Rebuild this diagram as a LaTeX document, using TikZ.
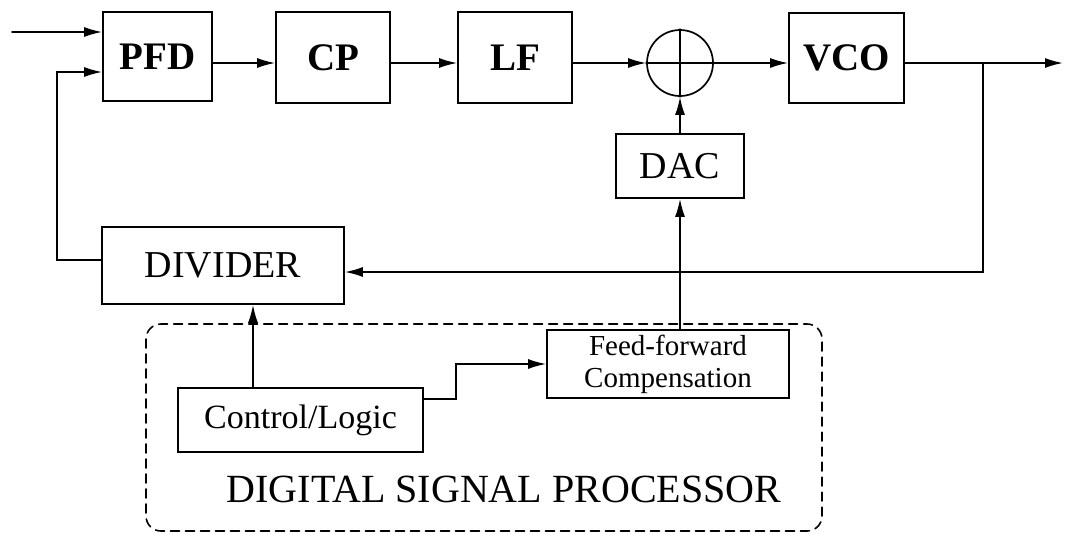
\documentclass[tikz,border=0pt]{standalone}
\usepackage{fontspec}
\setmainfont{Liberation Serif}
\usetikzlibrary{arrows.meta}

\begin{document}
\begin{tikzpicture}[x=1pt, y=-1pt, >={Latex[length=18pt,width=10pt]}, line width=1.7pt, line cap=round,
  blk/.style={draw, rectangle, inner sep=0pt},
  bigb/.style={font=\fontsize{39}{42}\selectfont\bfseries},
  bigr/.style={font=\fontsize{38}{40}\selectfont}]
\useasboundingbox (0,0) rectangle (1065,533);
% PLL forward path
\node[blk, bigb, minimum width=109pt, minimum height=89pt] (PFD) at (157.5,56.5) {PFD};
\node[blk, bigb, minimum width=114pt, minimum height=91pt] (CP) at (333,57.5) {CP};
\node[blk, bigb, minimum width=114pt, minimum height=91pt] (LF) at (515,57.5) {LF};
\node[draw, circle, inner sep=0pt, minimum size=66pt] (sum) at (680,63) {};
\draw (sum.north) -- (sum.south) (sum.west) -- (sum.east);
\node[blk, bigb, minimum width=115pt, minimum height=90pt] (VCO) at (846.5,58) {VCO};
\node[blk, bigr, minimum width=128pt, minimum height=64pt] (DAC) at (680,166) {DAC};
\node[blk, bigr, minimum width=242pt, minimum height=77pt] (DIVIDER) at (223,265.5) {DIVIDER};
% DSP block
\draw[line width=1.6pt, dash pattern=on 9pt off 6pt, rounded corners=15pt] (146,324) rectangle (822,531);
\node[blk, align=center, font=\fontsize{29}{32}\selectfont, minimum width=242pt, minimum height=68pt] (FF) at (668,364) {Feed-forward\\Compensation};
\node[blk, font=\fontsize{34}{36}\selectfont, minimum width=245pt, minimum height=64pt] (CL) at (300.5,420) {Control/Logic};
\node[anchor=base, font=\fontsize{40}{42}\selectfont] (DSP) at (504,502) {DIGITAL SIGNAL PROCESSOR};
% connectors
\coordinate (in) at (12,32);
\coordinate (out) at (1063,63);
\coordinate (br) at (983,63);
\coordinate (dv) at (983,272);
\coordinate (fb) at (57,260);
\coordinate (fbin) at (57,72);
\coordinate (cl) at (253,420);
\coordinate (st) at (456,399);
\draw[->] (in) -- (in -| PFD.west);
\draw[->] (PFD.east |- sum) -- (CP.west |- sum);
\draw[->] (CP.east |- sum) -- (LF.west |- sum);
\draw[->] (LF.east |- sum) -- (sum.west);
\draw[->] (sum.east) -- (VCO.west |- sum);
\draw[->] (VCO.east |- sum) -- (out);
\draw[->] (br) -- (dv) -- (dv -| DIVIDER.east);
\draw[->] (DIVIDER.west |- fb) -- (fb) -- (fbin) -- (fbin -| PFD.west);
\draw[->] (DAC.north) -- (sum.south);
\draw[->] (FF.north -| DAC) -- (DAC.south);
\draw[->] (cl |- CL.north) -- (cl |- DIVIDER.south);
\draw[->] (CL.east |- st) -- (st) |- (FF.west);
\end{tikzpicture}
\end{document}
